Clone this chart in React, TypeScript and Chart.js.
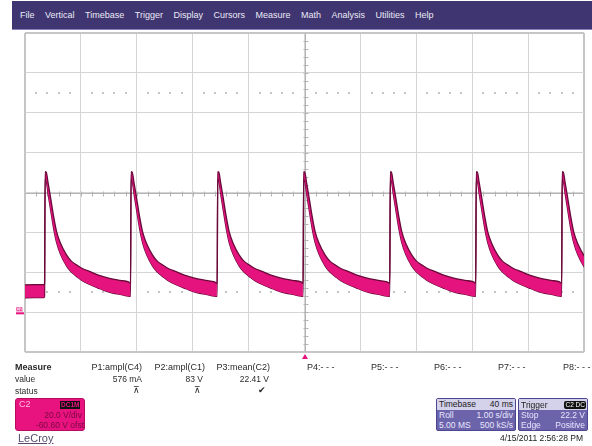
import React, { useEffect, useRef } from "react";
import { Chart, registerables } from "chart.js";

Chart.register(...registerables);

// ---- data ----
// time axis: 40 ms/div, 10 divisions; voltage: 20 V/div, offset -60.60 V (centre = 60.6 V)
const TIME_MIN_MS = 0;
const TIME_MAX_MS = 400;
const TIME_PER_DIV_MS = 40;
const VOLT_CENTER = 60.6;
const VOLT_PER_DIV = 20;
const DIVS_Y = 8;

// rising-edge instants of each pulse (ms from left edge of screen)
const riseTimesMs = [14, 75.5, 137.5, 199, 261, 322.5, 384];

// trace before the first pulse (noisy band, upper / lower envelope)
const leadInMs = [0, 13.6];
const leadInUpperV = [14.3, 14.4];
const leadInLowerV = [7.8, 7.9];

// shape of one pulse: ms after the rising edge, upper / lower envelope of the noisy band (V)
const pulseOffsetMs = [0, 0.4, 1.2, 2.5, 4.3, 6.5, 8.6, 11.5, 15.7, 19, 22.9, 27, 33, 38, 42, 48, 54, 60];
const pulseUpperV = [15, 71, 70.8, 65.5, 58, 48.5, 41, 35, 29.3, 26.3, 24.3, 22.5, 20.8, 19.3, 18.4, 17.3, 16.5, 15.8];
const pulseLowerV = [8.5, 67.5, 66.5, 60, 52, 42.5, 35.5, 29.5, 23.8, 20.8, 18.5, 16.3, 14.2, 12.8, 11.6, 10.3, 9.5, 8.6];

const menuItems = ["File", "Vertical", "Timebase", "Trigger", "Display", "Cursors", "Measure", "Math", "Analysis", "Utilities", "Help"];
const measureHeaders = ["P1:ampl(C4)", "P2:ampl(C1)", "P3:mean(C2)"];
const measureValues = ["576 mA", "83 V", "22.41 V"];
const measureStatus = ["⊼", "⊼", "✔"];
const emptyParams = ["P4:- - -", "P5:- - -", "P6:- - -", "P7:- - -", "P8:- - -"];

const TRACE_FILL = "#e5137d";
const TRACE_EDGE = "#6a0a3a";
const GRID = "#d5d5d5";
const GRID_EDGE = "#c6c6c6";
const CENTER = "#b4b4b4";
const MENU_BG = "#3e3571";

function buildTrace() {
  const upper: { x: number; y: number }[] = [];
  const lower: { x: number; y: number }[] = [];
  leadInMs.forEach((t, i) => {
    upper.push({ x: t, y: leadInUpperV[i] });
    lower.push({ x: t, y: leadInLowerV[i] });
  });
  riseTimesMs.forEach((t0) => {
    pulseOffsetMs.forEach((dt, i) => {
      upper.push({ x: t0 + dt, y: pulseUpperV[i] });
      lower.push({ x: t0 + dt, y: pulseLowerV[i] });
    });
  });
  return { upper, lower };
}

const scopePlugin = {
  id: "scopeDecor",
  beforeDatasetsDraw(chart: any) {
    const { ctx, chartArea, scales } = chart;
    const xs = scales.x;
    const ys = scales.y;
    const cx = Math.round(xs.getPixelForValue((TIME_MIN_MS + TIME_MAX_MS) / 2)) + 0.5;
    const cy = Math.round(ys.getPixelForValue(VOLT_CENTER)) + 0.5;
    ctx.save();
    ctx.strokeStyle = CENTER;
    ctx.lineWidth = 1;
    ctx.beginPath();
    ctx.moveTo(cx, chartArea.top);
    ctx.lineTo(cx, chartArea.bottom);
    ctx.moveTo(chartArea.left, cy);
    ctx.lineTo(chartArea.right, cy);
    // minor ticks every 0.2 div
    const minorT = TIME_PER_DIV_MS / 5;
    for (let t = TIME_MIN_MS + minorT; t < TIME_MAX_MS; t += minorT) {
      const px = Math.round(xs.getPixelForValue(t)) + 0.5;
      ctx.moveTo(px, cy - 2);
      ctx.lineTo(px, cy + 3);
    }
    const minorV = VOLT_PER_DIV / 5;
    const vMin = VOLT_CENTER - (VOLT_PER_DIV * DIVS_Y) / 2;
    const vMax = VOLT_CENTER + (VOLT_PER_DIV * DIVS_Y) / 2;
    for (let v = vMin + minorV; v < vMax - 0.01; v += minorV) {
      const py = Math.round(ys.getPixelForValue(v)) + 0.5;
      ctx.moveTo(cx - 2, py);
      ctx.lineTo(cx + 3, py);
    }
    ctx.stroke();
    // dotted lines at +/- 2.5 div
    ctx.fillStyle = "#c4c4c4";
    [VOLT_CENTER + 2.5 * VOLT_PER_DIV, VOLT_CENTER - 2.5 * VOLT_PER_DIV].forEach((v) => {
      const py = Math.round(ys.getPixelForValue(v));
      for (let t = TIME_MIN_MS + minorT; t < TIME_MAX_MS; t += minorT) {
        const k = Math.round(t / minorT);
        if (k % 5 === 0) continue;
        const px = Math.round(xs.getPixelForValue(t));
        ctx.fillRect(px - 1, py - 1, 2, 2);
      }
    });
    ctx.restore();
  },
  afterDraw(chart: any) {
    const { ctx, chartArea, scales } = chart;
    const xs = scales.x;
    const ys = scales.y;
    ctx.save();
    // channel ground marker (0 V)
    const gy = ys.getPixelForValue(0);
    ctx.fillStyle = "#f7b7d8";
    ctx.fillRect(chartArea.left - 9, gy - 6, 7, 5);
    ctx.fillStyle = "#e5137d";
    ctx.fillRect(chartArea.left - 9, gy - 1, 8, 2);
    ctx.font = "5px 'Liberation Sans', Arial, sans-serif";
    ctx.fillStyle = "#e5137d";
    ctx.textBaseline = "middle";
    ctx.fillText("C2", chartArea.left - 9, gy - 3.5);
    // trigger time marker
    const tx = xs.getPixelForValue((TIME_MIN_MS + TIME_MAX_MS) / 2) + 0.5;
    ctx.fillStyle = "#e5137d";
    ctx.beginPath();
    ctx.moveTo(tx, chartArea.bottom + 2);
    ctx.lineTo(tx - 3, chartArea.bottom + 7);
    ctx.lineTo(tx + 3, chartArea.bottom + 7);
    ctx.closePath();
    ctx.fill();
    ctx.restore();
  },
};

const FONT = "'Liberation Sans', Arial, Helvetica, sans-serif";

function abs(left: number, top: number, extra: React.CSSProperties = {}): React.CSSProperties {
  return { position: "absolute", left, top, whiteSpace: "nowrap", ...extra };
}

export default function App() {
  const canvasRef = useRef<HTMLCanvasElement | null>(null);

  useEffect(() => {
    if (!canvasRef.current) return;
    const { upper, lower } = buildTrace();
    const vMin = VOLT_CENTER - (VOLT_PER_DIV * DIVS_Y) / 2;
    const vMax = VOLT_CENTER + (VOLT_PER_DIV * DIVS_Y) / 2;
    const yGrid: number[] = [];
    for (let i = 0; i <= DIVS_Y; i++) yGrid.push(vMin + i * VOLT_PER_DIV);
    const edgeWidth = (ctx: any) => {
      const n = ctx.scale ? ctx.scale.ticks.length : 0;
      return ctx.index === 0 || ctx.index === n - 1 ? 2 : 1;
    };
    const edgeColor = (ctx: any) => {
      const n = ctx.scale ? ctx.scale.ticks.length : 0;
      return ctx.index === 0 || ctx.index === n - 1 ? GRID_EDGE : GRID;
    };
    const chart = new Chart(canvasRef.current, {
      type: "line",
      data: {
        datasets: [
          {
            data: upper,
            borderColor: TRACE_EDGE,
            borderWidth: 1.3,
            backgroundColor: TRACE_FILL,
            fill: "+1",
            pointRadius: 0,
            cubicInterpolationMode: "monotone",
          },
          {
            data: lower,
            borderColor: TRACE_EDGE,
            borderWidth: 1.3,
            backgroundColor: TRACE_FILL,
            fill: false,
            pointRadius: 0,
            cubicInterpolationMode: "monotone",
          },
        ],
      },
      options: {
        animation: false,
        responsive: false,
        devicePixelRatio: 1,
        layout: { padding: { left: 25, top: 33, right: 8, bottom: 94 } },
        plugins: { legend: { display: false }, tooltip: { enabled: false } },
        scales: {
          x: {
            type: "linear",
            min: TIME_MIN_MS,
            max: TIME_MAX_MS,
            ticks: { display: false, stepSize: TIME_PER_DIV_MS },
            grid: { color: edgeColor, lineWidth: edgeWidth, drawTicks: false },
            border: { display: false },
          },
          y: {
            type: "linear",
            min: vMin,
            max: vMax,
            afterBuildTicks: (s: any) => {
              s.ticks = yGrid.map((v) => ({ value: v }));
            },
            ticks: { display: false },
            grid: { color: edgeColor, lineWidth: edgeWidth, drawTicks: false },
            border: { display: false },
          },
        },
      } as any,
      plugins: [scopePlugin],
    });
    return () => chart.destroy();
  }, []);

  const small: React.CSSProperties = { fontSize: 8.5, lineHeight: "10px", color: "#2a2a2a" };

  return (
    <div style={{ position: "fixed", left: 0, top: 0, width: 592, height: 446, background: "#ffffff", fontFamily: FONT, overflow: "hidden" }}>
      <canvas ref={canvasRef} width={592} height={446} style={{ position: "absolute", left: 0, top: 0 }} />
      {/* menu bar */}
      <div style={abs(12, 1, { width: 580, height: 28, background: MENU_BG, borderBottom: "1px solid #8880b8" })}>
        <div style={{ display: "flex", alignItems: "center", height: 28, paddingLeft: 8, gap: 10.5, fontSize: 9, color: "#ecebf6" }}>
          {menuItems.map((m) => (
            <span key={m}>{m}</span>
          ))}
        </div>
      </div>
      {/* measure table */}
      <div style={abs(15, 362, { ...small, fontWeight: "bold", fontSize: 9 })}>Measure</div>
      <div style={abs(15, 374, small)}>value</div>
      <div style={abs(15, 386, small)}>status</div>
      {measureHeaders.map((h, i) => (
        <div key={h} style={abs([80, 143, 208][i], 362, { ...small, width: 62, textAlign: "right", fontSize: 9 })}>{h}</div>
      ))}
      {measureValues.map((v, i) => (
        <div key={v} style={abs([80, 141, 207][i], 374, { ...small, width: 62, textAlign: "right" })}>{v}</div>
      ))}
      {measureStatus.map((v, i) => (
        <div key={i} style={abs([80, 141, 206][i], 385, { ...small, width: 60, textAlign: "right", fontSize: 9 })}>{v}</div>
      ))}
      {emptyParams.map((p, i) => (
        <div key={p} style={abs([307, 371, 434, 498, 563][i], 362, { ...small, fontSize: 9 })}>{p}</div>
      ))}
      {/* channel box */}
      <div style={abs(15, 398, { width: 70, height: 33, background: "#e8137f", borderRadius: 3, border: "1px solid #b80a60", boxSizing: "border-box" })}>
        <div style={abs(3, 0, { fontSize: 9, color: "#f9bddb", lineHeight: "11px" })}>C2</div>
        <div style={abs(44, 2, { fontSize: 6.5, fontWeight: "bold", color: "#e8137f", background: "#111", padding: "0 1px", lineHeight: "8px" })}>DC1M</div>
        <div style={abs(2, 11, { width: 64, textAlign: "right", fontSize: 8.5, color: "#7a0842", lineHeight: "10px" })}>20.0 V/div</div>
        <div style={abs(0, 21, { width: 68, textAlign: "right", fontSize: 8.5, color: "#7a0842", lineHeight: "10px" })}>-60.60 V ofst</div>
      </div>
      <div style={abs(18, 431, { fontSize: 11, color: "#554c6e", textDecoration: "underline", lineHeight: "14px" })}>LeCroy</div>
      {/* timebase box */}
      <div style={abs(436, 398, { width: 80, height: 33, background: "#6c64aa", border: "1px solid #4c4592", borderRadius: 2, boxSizing: "border-box", fontSize: 8.5, lineHeight: "10px" })}>
        <div style={{ background: "#d4d1ea", color: "#222", display: "flex", justifyContent: "space-between", padding: "0 2px", height: 11 }}>
          <span>Timebase</span><span>40 ms</span>
        </div>
        <div style={{ color: "#e8e6ff", display: "flex", justifyContent: "space-between", padding: "0 2px" }}>
          <span>Roll</span><span>1.00 s/div</span>
        </div>
        <div style={{ color: "#e8e6ff", display: "flex", justifyContent: "space-between", padding: "0 2px" }}>
          <span>5.00 MS</span><span>500 kS/s</span>
        </div>
      </div>
      <div style={abs(518, 398, { width: 70, height: 33, background: "#6c64aa", border: "1px solid #4c4592", borderRadius: 2, boxSizing: "border-box", fontSize: 8.5, lineHeight: "10px" })}>
        <div style={{ background: "#d4d1ea", color: "#222", display: "flex", justifyContent: "space-between", alignItems: "center", padding: "0 1px 0 2px", height: 11 }}>
          <span>Trigger</span><span style={{ background: "#111", color: "#fff", fontSize: 6.5, lineHeight: "8px", padding: "0 1px", borderRadius: 2 }}>C2 DC</span>
        </div>
        <div style={{ color: "#e8e6ff", display: "flex", justifyContent: "space-between", padding: "0 2px" }}>
          <span>Stop</span><span>22.2 V</span>
        </div>
        <div style={{ color: "#e8e6ff", display: "flex", justifyContent: "space-between", padding: "0 2px" }}>
          <span>Edge</span><span>Positive</span>
        </div>
      </div>
      <div style={abs(470, 433, { width: 113, textAlign: "right", fontSize: 8.5, color: "#222", lineHeight: "10px" })}>4/15/2011 2:56:28 PM</div>
    </div>
  );
}
